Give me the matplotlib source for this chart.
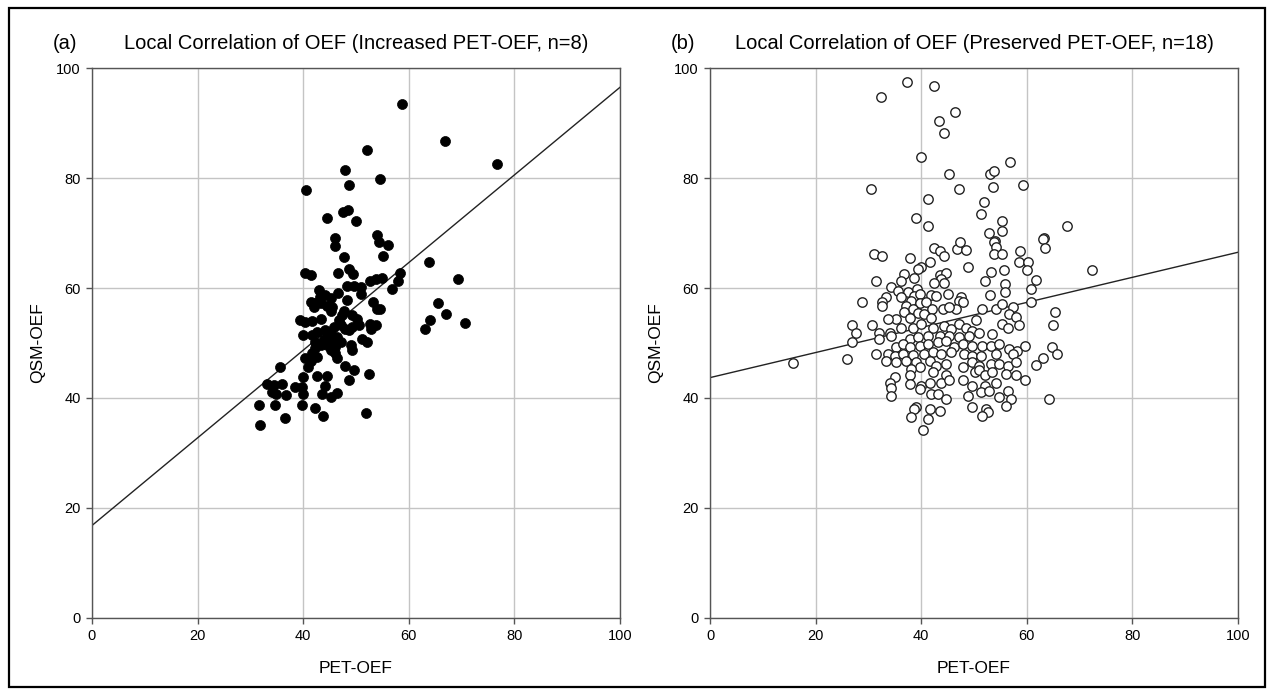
"""
Local OEF correlation: QSM-OEF vs PET-OEF, two patient groups side by side.
"""
import matplotlib
matplotlib.use("Agg")
import matplotlib.pyplot as plt
from matplotlib.patches import Rectangle

plt.rcParams.update({"font.family": ["Liberation Sans", "DejaVu Sans"], "font.size": 10})

# ---- (a) increased PET-OEF, n=8 ---------------------------------------------
a_pet = [58.8, 66.8, 76.8, 52.1, 47.9, 54.5, 48.7, 40.5, 47.5, 48.4, 44.6, 50.1, 54.0,
         46.0, 54.4, 56.1, 46.1,
         47.7, 55.1, 48.6, 49.4, 46.6, 40.4, 41.4, 63.8, 58.3, 58.0, 52.7, 53.8, 55.0,
         56.8, 48.3, 49.6, 50.9, 51.0, 69.4, 43.0, 43.2, 44.2, 45.2, 41.4, 42.3, 43.3,
         42.0, 44.5, 45.5, 45.2, 46.6, 48.3, 53.2, 54.5, 54.0, 47.8, 47.4, 46.8, 49.3,
         50.2, 50.5, 39.4, 40.4, 41.7, 43.3, 45.8, 47.1, 48.0, 48.6, 49.3, 52.9, 53.8,
         52.7, 44.1, 45.2, 42.6, 41.7, 40.0, 46.4, 45.2, 43.9, 42.3, 43.3, 51.2, 52.1,
         47.1, 46.1, 45.2, 44.5, 49.0, 49.3, 42.3, 41.7, 42.6, 41.4, 40.4, 46.1, 46.4,
         40.9, 48.0, 35.7, 49.6, 48.6, 52.4, 42.6, 44.5, 40.0, 33.1, 34.4, 36.0, 34.1,
         38.5, 39.8, 44.2, 43.6, 45.2, 46.4, 40.0, 36.7, 34.8, 31.6, 34.6, 39.7, 42.3,
         43.8, 36.5, 31.9, 51.9, 64.0, 63.0, 65.6, 67.0, 70.7]
a_qsm = [93.5, 86.8, 82.5, 85.1, 81.4, 79.9, 78.8, 77.9, 73.8, 74.2, 72.8, 72.2, 69.7,
         69.1, 68.4, 67.8, 67.6,
         65.6, 65.8, 63.5, 62.6, 62.7, 62.7, 62.3, 64.7, 62.7, 61.3, 61.3, 61.7, 61.9,
         59.9, 60.3, 60.3, 60.2, 59.0, 61.6, 59.6, 58.4, 58.8, 58.1, 57.5, 57.3, 57.2,
         56.5, 56.8, 56.5, 55.9, 59.1, 57.9, 57.5, 56.2, 56.1, 55.9, 55.0, 54.1, 55.0,
         54.4, 53.2, 54.2, 53.8, 54.0, 54.4, 52.9, 53.2, 52.6, 52.3, 52.9, 52.6, 53.2,
         53.5, 52.3, 51.7, 52.0, 51.4, 51.4, 51.1, 50.5, 50.8, 50.2, 49.6, 50.8, 50.2,
         50.2, 49.3, 48.7, 49.6, 49.6, 48.7, 49.0, 48.1, 47.5, 46.8, 47.2, 48.1, 47.2,
         45.6, 45.9, 45.6, 45.0, 43.2, 44.3, 44.0, 44.0, 43.8, 42.6, 42.3, 42.6, 41.1,
         42.0, 42.0, 42.1, 40.8, 40.2, 40.9, 40.7, 40.5, 40.7, 38.7, 38.7, 38.7, 38.1,
         36.7, 36.4, 35.0, 37.2, 54.2, 52.6, 57.2, 55.2, 53.6]
a_fit = (16.8, 0.797)   # intercept, slope

# ---- (b) preserved PET-OEF, n=18 --------------------------------------------
b_pet = [37.3, 42.5, 32.4, 46.5, 43.4, 44.4, 39.9, 56.8, 45.3, 53.0, 53.7, 30.5, 47.1,
         53.6, 59.3, 41.2, 51.9, 51.3, 39.0, 55.3, 41.2, 55.3, 52.9, 67.7, 63.2, 54.0,
         15.7,
         42.5, 43.5, 44.4, 46.8, 47.4, 48.5, 53.8, 54.2, 53.8, 55.4, 58.7, 63.1, 63.5,
         31.0, 32.5, 37.8,
         41.6, 40.0, 39.4, 48.8, 53.2, 55.7, 58.6, 60.3, 60.1, 36.7, 36.2, 38.7, 43.5,
         44.7, 43.8, 31.5, 72.3, 61.7,
         34.2, 35.6, 37.5, 39.2, 38.6, 39.7, 42.5, 44.4, 52.0, 55.9, 55.9, 60.8, 41.9,
         42.8, 45.0, 47.5, 53.0, 36.2, 33.3, 28.8, 32.5, 32.6,
         38.1, 39.8, 40.9, 47.2, 47.9, 46.6, 44.1, 45.3, 42.1, 37.2, 38.4, 39.4, 40.6,
         41.9, 51.6, 54.2, 55.4, 57.3, 60.8, 56.7, 57.9, 65.3, 36.7, 35.3, 33.7, 37.8,
         26.9, 27.7, 30.6, 32.1, 34.0, 36.2, 38.4, 40.0, 42.2, 44.4, 45.7, 47.2, 48.5,
         50.4, 49.7, 51.0, 53.5, 55.4, 56.4, 58.6, 65.0, 34.3, 37.8, 39.4, 41.3, 43.5,
         45.3, 47.2, 49.1,
         26.9, 32.1, 35.3, 36.5, 37.8, 39.7, 41.3, 43.1, 44.7, 46.3, 47.9, 49.7, 51.6,
         53.2, 54.8, 56.7, 58.2, 59.6, 64.8, 65.8, 31.4, 33.7, 35.0, 36.5, 38.4, 40.6,
         42.2, 43.8, 45.7, 48.2, 49.7, 51.3, 54.2, 57.3, 26.0,
         33.4, 35.3, 37.2, 39.1, 41.6, 42.8, 39.7, 38.1, 44.7, 47.9, 49.7, 51.0, 53.2,
         54.8, 56.4, 57.9, 63.0, 61.7, 50.1, 51.0, 52.0, 42.2, 44.7, 37.8, 35.0, 53.5,
         56.0, 57.9,
         34.0, 34.3, 37.8, 40.0, 41.6, 43.8, 45.3, 47.9, 49.7, 52.0, 54.2, 56.4, 59.7,
         34.3, 39.7, 41.9, 43.1, 44.7, 48.8, 51.3, 52.9, 54.8, 57.0, 64.2,
         39.1, 38.7, 41.6, 43.5, 49.7, 52.3, 52.6, 56.0, 38.0, 41.3, 51.6, 40.4]
b_qsm = [97.5, 96.8, 94.7, 92.1, 90.4, 88.2, 83.8, 83.0, 80.8, 80.8, 81.2, 78.0, 78.1,
         78.4, 78.7, 76.2, 75.6, 73.5, 72.8, 72.2, 71.2, 70.4, 70.0, 71.2, 69.1, 68.5,
         46.4,
         67.2, 66.8, 65.9, 67.1, 68.4, 66.9, 68.4, 67.4, 66.2, 66.2, 66.8, 68.9, 67.2,
         66.2, 65.8, 65.4,
         64.7, 63.9, 63.5, 63.9, 63.0, 63.2, 64.7, 64.7, 63.2, 62.5, 61.3, 61.8, 62.4,
         62.7, 61.6, 61.3, 63.3, 61.5,
         60.1, 59.5, 59.3, 59.8, 58.6, 58.9, 61.0, 61.0, 61.2, 60.7, 59.2, 59.9, 58.7,
         58.6, 58.9, 58.3, 58.7, 58.3, 58.3, 57.4, 57.4, 56.8,
         57.7, 57.3, 57.5, 57.7, 57.4, 56.2, 56.2, 56.5, 56.2, 56.8, 56.2, 55.5, 55.3,
         54.5, 56.2, 56.2, 57.1, 56.5, 57.4, 55.3, 54.7, 55.6, 55.7, 54.4, 54.4, 54.5,
         53.2, 51.8, 53.2, 51.9, 51.9, 52.8, 52.7, 53.5, 52.7, 53.0, 52.5, 53.5, 52.8,
         54.1, 52.2, 51.9, 51.6, 53.5, 52.8, 53.2, 53.3, 51.3, 50.8, 51.0, 51.3, 51.3,
         51.2, 51.0, 51.3,
         50.1, 50.8, 49.2, 49.8, 49.2, 49.5, 49.8, 50.1, 50.4, 49.2, 49.8, 49.5, 49.5,
         49.4, 49.8, 48.9, 48.6, 49.5, 49.2, 48.0, 48.0, 48.0, 47.7, 48.0, 47.8, 48.0,
         48.3, 48.0, 48.3, 48.0, 47.7, 47.7, 48.0, 48.0, 47.0,
         46.8, 46.5, 46.8, 46.5, 46.8, 45.9, 45.6, 45.3, 46.2, 45.6, 46.5, 45.9, 46.2,
         46.2, 45.9, 46.5, 47.2, 46.0, 44.7, 45.0, 44.1, 44.7, 44.1, 44.1, 43.9, 44.7,
         44.4, 44.1,
         42.8, 41.9, 42.5, 42.2, 42.8, 42.8, 43.2, 43.2, 42.2, 42.2, 42.8, 41.3, 43.2,
         40.4, 41.6, 40.7, 40.7, 39.8, 40.4, 41.0, 41.3, 40.1, 39.8, 39.8,
         38.3, 38.0, 38.0, 37.7, 38.3, 38.0, 37.4, 38.6, 36.5, 36.2, 36.8, 34.2]
b_fit = (43.7, 0.228)

TICKS = [0, 20, 40, 60, 80, 100]

fig = plt.figure(figsize=(12.74, 6.95), dpi=100)
fig.patches.append(Rectangle((0.007, 0.011), 0.986, 0.978, transform=fig.transFigure,
                             fill=False, edgecolor="black", linewidth=1.6))

def panel(rect, x, y, fit, title, tag, filled):
    ax = fig.add_axes(rect)
    ax.set_xlim(0, 100); ax.set_ylim(0, 100)
    ax.set_xticks(TICKS); ax.set_yticks(TICKS)
    ax.grid(True, color="#c4c4c4", linewidth=1.0)
    ax.set_axisbelow(True)
    for s in ax.spines.values():
        s.set_color("#555555"); s.set_linewidth(1.0)
    ax.tick_params(direction="out", length=4, width=1, color="#555555", labelsize=10.5, pad=4)
    b, m = fit
    ax.plot([0, 100], [b, b + m * 100], color="#222222", lw=1.0, zorder=2)
    if filled:
        ax.scatter(x, y, s=52, color="black", edgecolors="black", linewidths=0.5, zorder=3)
    else:
        ax.scatter(x, y, s=46, facecolors="white", edgecolors="#222222", linewidths=1.0, zorder=3)
    ax.set_xlabel("PET-OEF", fontsize=12.5, labelpad=13)
    ax.set_ylabel("QSM-OEF", fontsize=12.5, labelpad=8)
    ax.set_title(title, fontsize=14.5, pad=14)
    ax.annotate(tag, xy=(0, 1), xycoords="axes fraction", xytext=(-28, 14),
                textcoords="offset points", fontsize=14.5, ha="left", va="baseline")
    return ax

panel([0.0722, 0.111, 0.4144, 0.791], a_pet, a_qsm, a_fit,
      "Local Correlation of OEF (Increased PET-OEF, n=8)", "(a)", True)
panel([0.5573, 0.111, 0.4144, 0.791], b_pet, b_qsm, b_fit,
      "Local Correlation of OEF (Preserved PET-OEF, n=18)", "(b)", False)

fig.savefig("out.png", dpi=100)
